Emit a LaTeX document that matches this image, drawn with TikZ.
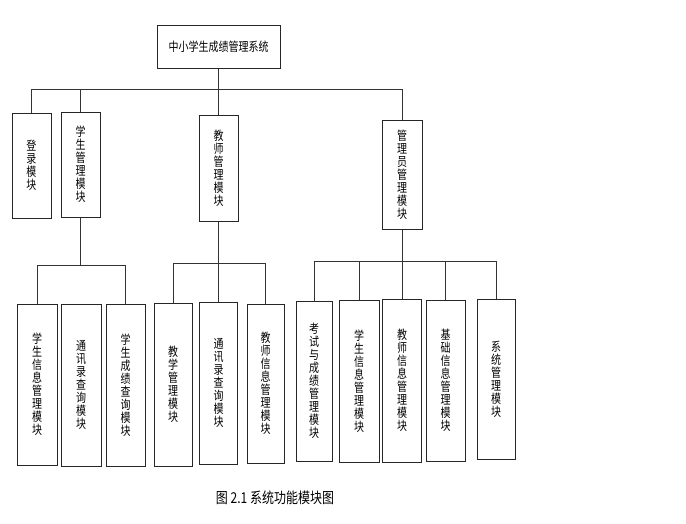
\documentclass[tikz,border=0pt]{standalone}
\usepackage{fontspec}
\setmainfont{Noto Sans CJK SC}
\newfontfamily\narrowcjk[FakeStretch=0.8]{Noto Sans CJK SC}
\begin{document}
\begin{tikzpicture}[x=1pt,y=-1pt,
  box/.style={draw=black!85, line width=1pt, inner sep=0pt, align=center,
    font=\narrowcjk\fontsize{12.5}{13}\selectfont},
  conn/.style={draw=black!80, line width=0.8pt}]
\useasboundingbox (0,0) rectangle (686,523);
% root
\node[box, minimum width=123pt, minimum height=43pt] (root) at (218.5,46.5) {中小学生成绩管理系统};
% level 1
\node[box, minimum width=39pt, minimum height=105pt] (login) at (31.5,165.5) {登\\录\\模\\块};
\node[box, minimum width=39pt, minimum height=105pt] (stu) at (80.5,164.5) {学\\生\\管\\理\\模\\块};
\node[box, minimum width=39pt, minimum height=106pt] (tea) at (218.5,168) {教\\师\\管\\理\\模\\块};
\node[box, minimum width=40pt, minimum height=109pt] (adm) at (402,174.5) {管\\理\\员\\管\\理\\模\\块};
% level 2 students
\node[box, minimum width=40pt, minimum height=161pt] (s1) at (37,384.5) {学\\生\\信\\息\\管\\理\\模\\块};
\node[box, minimum width=40pt, minimum height=162pt] (s2) at (81,385) {通\\讯\\录\\查\\询\\模\\块};
\node[box, minimum width=39pt, minimum height=162pt] (s3) at (125.5,385) {学\\生\\成\\绩\\查\\询\\模\\块};
% level 2 teachers
\node[box, minimum width=38pt, minimum height=163pt] (t1) at (173,384.5) {教\\学\\管\\理\\模\\块};
\node[box, minimum width=38pt, minimum height=162pt] (t2) at (218.5,383) {通\\讯\\录\\查\\询\\模\\块};
\node[box, minimum width=37pt, minimum height=159pt] (t3) at (265.5,383.5) {教\\师\\信\\息\\管\\理\\模\\块};
% level 2 admin
\node[box, minimum width=36pt, minimum height=160pt] (a1) at (314,381) {考\\试\\与\\成\\绩\\管\\理\\模\\块};
\node[box, minimum width=40pt, minimum height=162pt] (a2) at (359,381) {学\\生\\信\\息\\管\\理\\模\\块};
\node[box, minimum width=39pt, minimum height=163pt] (a3) at (402,380.5) {教\\师\\信\\息\\管\\理\\模\\块};
\node[box, minimum width=39pt, minimum height=161pt] (a4) at (445.5,380.5) {基\\础\\信\\息\\管\\理\\模\\块};
\node[box, minimum width=38pt, minimum height=160pt] (a5) at (496,379) {系\\统\\管\\理\\模\\块};
% caption
\node[font=\narrowcjk\fontsize{15}{17}\selectfont] (cap) at (275,498) {图 2.1 系统功能模块图};
% bus coordinates
\coordinate (b0) at (0,89);
\coordinate (sb) at (0,265);
\coordinate (tb) at (0,263);
\coordinate (ab) at (0,261);
% top level connectors
\draw[conn] (login.north) -- (login.north |- b0) -- (adm.north |- b0) -- (adm.north);
\draw[conn] (stu.north) -- (stu.north |- b0);
\draw[conn] (root.south) -- (tea.north);
% student group
\draw[conn] (stu.south) -- (stu.south |- sb);
\draw[conn] (s1.north) -- (s1.north |- sb) -- (s3.north |- sb) -- (s3.north);
% teacher group
\draw[conn] (tea.south) -- (t2.north);
\draw[conn] (t1.north) -- (t1.north |- tb) -- (t3.north |- tb) -- (t3.north);
% admin group
\draw[conn] (adm.south) -- (a3.north);
\draw[conn] (a1.north) -- (a1.north |- ab) -- (a5.north |- ab) -- (a5.north);
\draw[conn] (a2.north) -- (a2.north |- ab);
\draw[conn] (a4.north) -- (a4.north |- ab);
\end{tikzpicture}
\end{document}
